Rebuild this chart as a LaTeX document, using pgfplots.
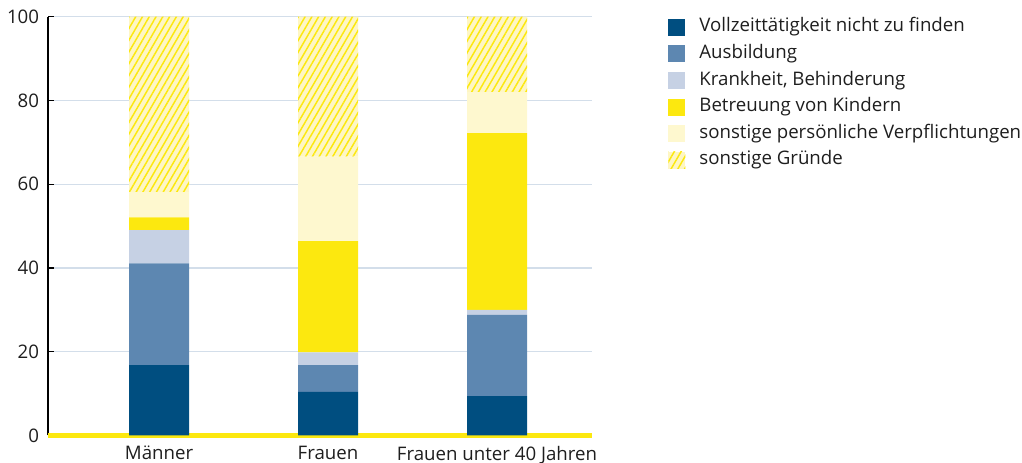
\documentclass[border=0pt]{standalone}
\usepackage{fontspec}
\setmainfont{Open Sans}
\usepackage{pgfplots}
\pgfplotsset{compat=1.18}
\usetikzlibrary{patterns.meta}
\definecolor{dkblue}{HTML}{004E80}
\definecolor{mdblue}{HTML}{5D87B1}
\definecolor{ltblue}{HTML}{C6D1E4}
\definecolor{ylw}{HTML}{FCE80F}
\definecolor{ltylw}{HTML}{FEF8CF}
\definecolor{hatchbg}{HTML}{FEF6C4}
\definecolor{gridc}{HTML}{D3DEEA}
\definecolor{txt}{HTML}{1E1E1E}
\begin{document}
\begin{tikzpicture}[x=1pt,y=1pt]
\path[use as bounding box] (0,0) rectangle (766.5,347.25);
\begin{axis}[
  at={(36pt,20.7pt)},anchor=south west,
  scale only axis,width=408pt,height=314pt,
  font=\fontsize{14}{16}\selectfont,color=txt,
  /pgf/number format/assume math mode=true,
  ybar stacked,bar width=45pt,
  xmin=-0.657,xmax=2.562,ymin=0,ymax=100,
  xtick={0,1,2},xticklabels={Männer,Frauen,Frauen unter 40 Jahren},
  ytick={0,20,40,60,80,100},
  axis x line*=bottom,axis y line*=left,
  x axis line style={draw=none},xtick style={draw=none},
  y axis line style={black,line width=0.9pt},
  ytick style={black,line width=0.9pt},major tick length=4.5pt,
  tick align=inside,
  ymajorgrids,grid style={gridc,line width=0.9pt},
  yticklabel style={inner sep=0pt,xshift=-6.5pt},
  xticklabel style={inner sep=0pt,yshift=-8pt},
  clip=false,
  legend cell align=left,
  legend style={at={(1.14,0.997)},anchor=north west,draw=none,fill=none,inner sep=0pt,
    font=\fontsize{14}{16}\selectfont,
    nodes={inner sep=0pt,text height=10.3pt,text depth=3.2pt},
    row sep=6.45pt,
    /tikz/every odd column/.append style={column sep=10.5pt}},
  legend image code/.code={\path[#1,draw=none] (0pt,-6.4pt) rectangle (12.75pt,6.4pt);},
]
\addplot[fill=dkblue,draw=none] coordinates {(0,16.8) (1,10.4) (2,9.4)};
\addplot[fill=mdblue,draw=none] coordinates {(0,24.3) (1,6.4) (2,19.4)};
\addplot[fill=ltblue,draw=none] coordinates {(0,7.9) (1,3.0) (2,1.2)};
\addplot[fill=ylw,draw=none] coordinates {(0,3.1) (1,26.6) (2,42.2)};
\addplot[fill=ltylw,draw=none] coordinates {(0,6.0) (1,20.2) (2,9.8)};
\addplot[fill=hatchbg,draw=none,postaction={pattern={Lines[angle=60,distance=4.4pt,line width=1.1pt]},pattern color=ylw}] coordinates {(0,41.9) (1,33.4) (2,18.0)};
\legend{Vollzeittätigkeit nicht zu finden,Ausbildung,{Krankheit, Behinderung},Betreuung von Kindern,sonstige persönliche Verpflichtungen,sonstige Gründe}
\addplot[ylw,line width=3.75pt,forget plot,ybar=false,stack plots=false,sharp plot] coordinates {(-0.657,0) (2.562,0)};
\end{axis}
\end{tikzpicture}
\end{document}
